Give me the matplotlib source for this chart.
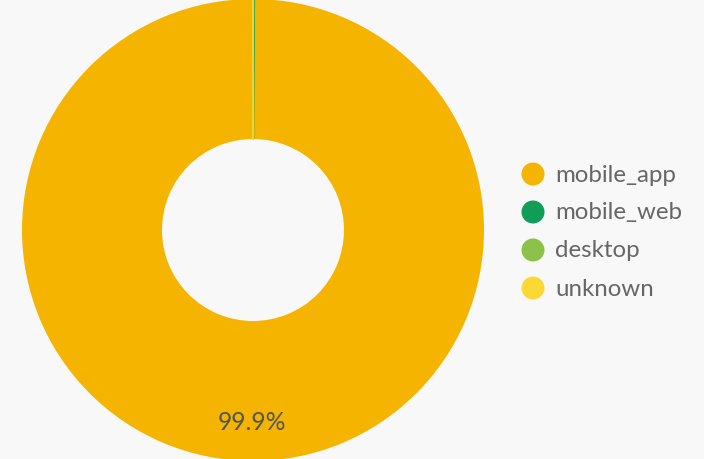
import matplotlib.pyplot as plt
from matplotlib.patches import Ellipse

# Data
labels = ["mobile_app", "mobile_web", "desktop", "unknown"]
values = [99.9, 0.05, 0.04, 0.01]
colors = ["#f5b400", "#0f9d58", "#8bc34a", "#fdd835"]

bg = "#f8f8f8"
text_color = "#666666"

plt.rcParams["font.family"] = ["Lato", "DejaVu Sans"]

fig = plt.figure(figsize=(7.04, 4.60), dpi=100, facecolor=bg)
# donut centred near (253, 231) px, outer radius ~231 px
ax = fig.add_axes([22 / 704, (229 - 231) / 460, 462 / 704, 462 / 460])
ax.set_facecolor(bg)


def fmt_pct(p):
    return f"{p:.1f}%" if p >= 1 else ""


wedges, texts, autotexts = ax.pie(
    values,
    colors=colors,
    startangle=90,
    counterclock=True,
    radius=1.0,
    wedgeprops=dict(width=1 - 91 / 231, linewidth=0),
    autopct=fmt_pct,
    pctdistance=0.83,
    textprops=dict(color="#555555", fontsize=17.8),
)
# thin slices: give them a hairline edge so they stay visible
for w, c in zip(wedges[1:], colors[1:]):
    w.set_edgecolor(c)
    w.set_linewidth(0.9)
    w.set_alpha(0.85)

ax.set_aspect("equal")
ax.set_xlim(-1, 1)
ax.set_ylim(-1, 1)
ax.axis("off")

# Legend with round markers
for i, (lab, col) in enumerate(zip(labels, colors)):
    y = 1 - (175 + 38 * i) / 460
    fig.patches.append(Ellipse((533 / 704, y), 23 / 704, 23 / 460, transform=fig.transFigure,
                               facecolor=col, edgecolor="none", figure=fig))
    fig.text(555 / 704, y, lab, fontsize=17.3, color=text_color, va="center", ha="left")

plt.savefig("out.png", dpi=100, facecolor=bg)
